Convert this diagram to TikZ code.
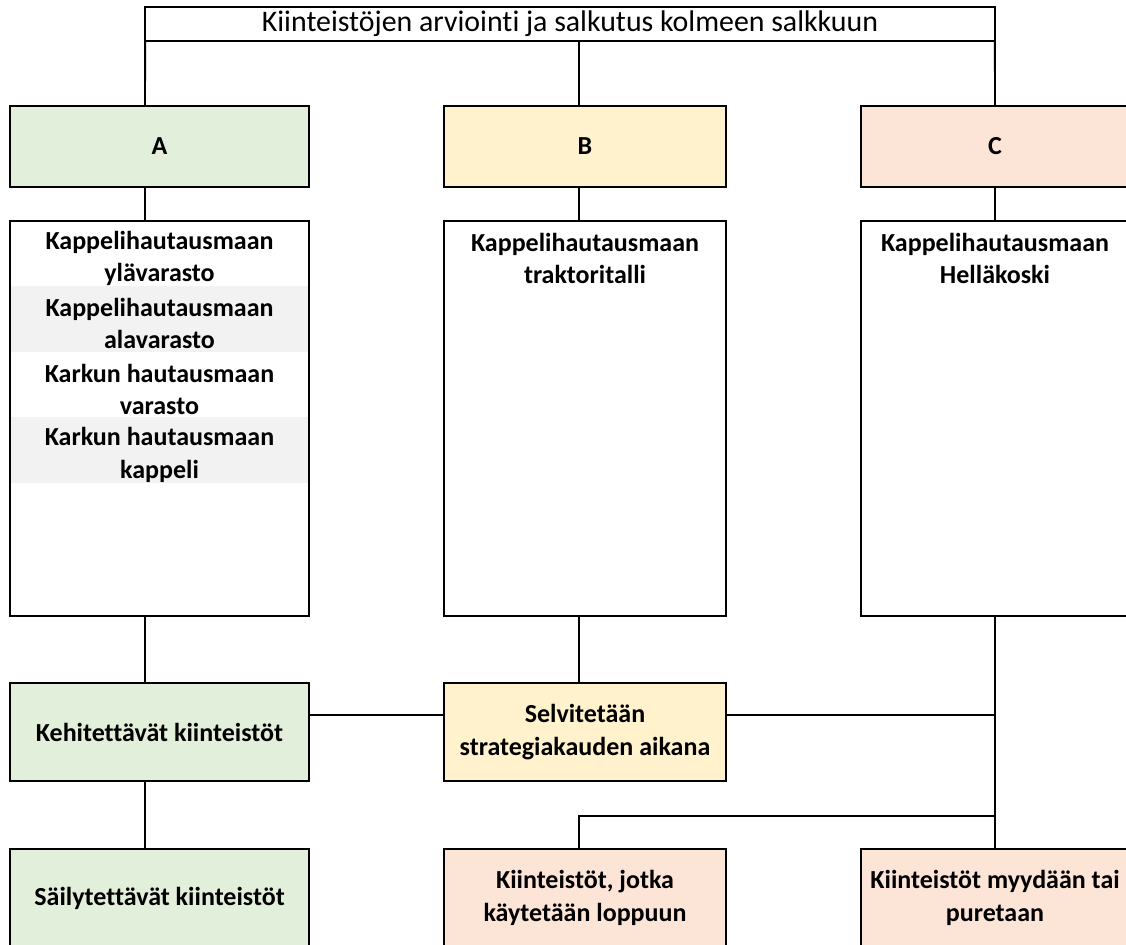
\documentclass[tikz,border=0pt]{standalone}
\usepackage{fontspec}
\setmainfont{Carlito}[RawFeature=-liga]
\usepackage{xcolor}
\usepackage{tikz}
\usetikzlibrary{calc}
\definecolor{grn}{HTML}{E2EFDA}
\definecolor{ylw}{HTML}{FFF2CC}
\definecolor{pch}{HTML}{FCE4D6}
\definecolor{stripe}{HTML}{F2F2F2}
\tikzset{
  every picture/.style={line join=miter},
  box/.style={draw=black, line width=1.3pt, rectangle, inner sep=0pt, outer sep=0pt,
    align=center, font=\fontsize{14.8}{18.4}\selectfont\bfseries},
  titlebox/.style={draw=black, line width=1.3pt, rectangle, inner sep=0pt, outer sep=0pt,
    minimum width=17cm, minimum height=0.68cm, font=\fontsize{17}{19}\selectfont},
  item/.style={align=center, inner sep=0pt, font=\fontsize{14.8}{18.4}\selectfont\bfseries},
  link/.style={draw=black, line width=1.1pt},
  wA/.style={minimum width=5.98cm},
  wB/.style={minimum width=5.64cm},
  wC/.style={minimum width=5.36cm},
  head/.style={minimum height=1.62cm},
  list/.style={minimum height=7.9cm},
  act/.style={minimum height=1.96cm}
}

\begin{document}
\begin{tikzpicture}[x=0.02cm, y=-0.02cm]
  \useasboundingbox (0,0) rectangle (1126,944);
  \clip (0,0) rectangle (1126,944);

  % connector axes
  \coordinate (xA) at (145,0);
  \coordinate (xB) at (579,0);
  \coordinate (xC) at (995,0);
  \coordinate (yS) at (0,715);
  \coordinate (yL) at (0,816);

  \node[titlebox] (top) at (570,24) {Kiinteistöjen arviointi ja salkutus kolmeen salkkuun};

  % portfolios
  \node[box, wA, head, fill=grn] (hA) at (159.5,146.5) {A};
  \node[box, wB, head, fill=ylw] (hB) at (585,146.5) {B};
  \node[box, wC, head, fill=pch] (hC) at (995,146.5) {C};

  % property lists (striped rows in A)
  \fill[stripe] (10,286) rectangle (309,352);
  \fill[stripe] (10,417) rectangle (309,483);
  \node[box, wA, list] (lA) at (159.5,418.5) {};
  \node[box, wB, list] (lB) at (585,418.5) {};
  \node[box, wC, list] (lC) at (995,418.5) {};

  \node[item] (a1) at (159.5,258.5) {Kappelihautausmaan\\ylävarasto};
  \node[item] (a2) at (159.5,323.5) {Kappelihautausmaan\\alavarasto};
  \node[item] (a3) at (159.5,389.5) {Karkun hautausmaan\\varasto};
  \node[item] (a4) at (159.5,455) {Karkun hautausmaan\\kappeli};
  \node[item] (b1) at (585,258.5) {Kappelihautausmaan\\traktoritalli};
  \node[item] (c1) at (995,258.5) {Kappelihautausmaan\\Helläkoski};

  % outcomes
  \node[box, wA, act, fill=grn] (kehit) at (159.5,732) {Kehitettävät kiinteistöt};
  \node[box, wB, act, fill=ylw] (selv) at (585,732) {Selvitetään\\strategiakauden aikana};
  \node[box, wA, act, fill=grn] (sail) at (159.5,898) {Säilytettävät kiinteistöt};
  \node[box, wB, act, fill=pch] (lopp) at (585,898) {Kiinteistöt, jotka\\käytetään loppuun};
  \node[box, wC, act, fill=pch] (myyd) at (995,898) {Kiinteistöt myydään tai\\puretaan};

  % connectors
  \draw[link] (top.south west) -- (hA.north -| xA);
  \draw[link] (top.south -| xB) -- (hB.north -| xB);
  \draw[link] (top.south east) -- (hC.north -| xC);
  \draw[link] (hA.south -| xA) -- (lA.north -| xA);
  \draw[link] (hB.south -| xB) -- (lB.north -| xB);
  \draw[link] (hC.south -| xC) -- (lC.north -| xC);
  \draw[link] (lA.south -| xA) -- (kehit.north -| xA);
  \draw[link] (kehit.south -| xA) -- (sail.north -| xA);
  \draw[link] (lB.south -| xB) -- (selv.north -| xB);
  \draw[link] (lC.south -| xC) -- (myyd.north -| xC);
  \draw[link] (kehit.east |- yS) -- (selv.west |- yS);
  \draw[link] (selv.east |- yS) -- (yS -| xC);
  \draw[link] (yL -| xC) -| (lopp.north -| xB);
\end{tikzpicture}
\end{document}
